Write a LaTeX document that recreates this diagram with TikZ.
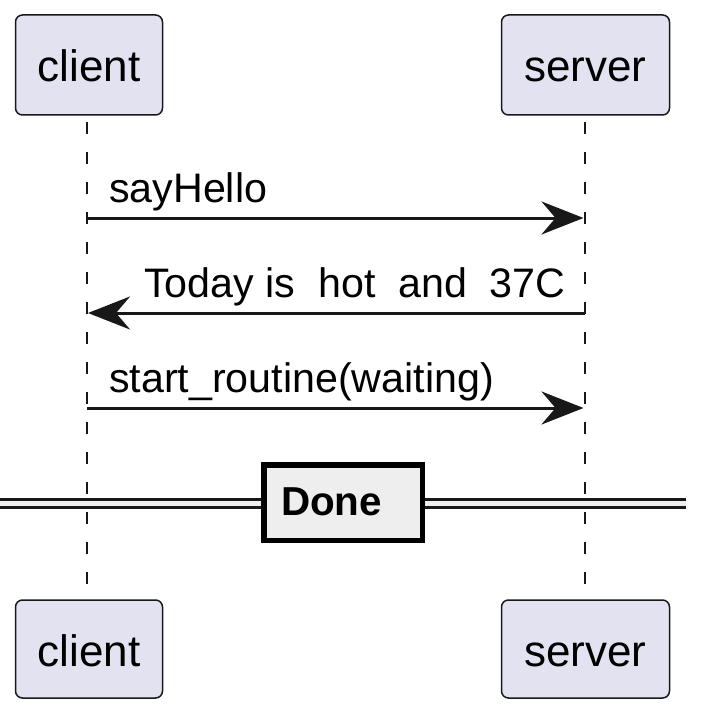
\documentclass[tikz,border=0pt]{standalone}
\usepackage{fontspec}
\setmainfont{Liberation Sans}
\usetikzlibrary{arrows.meta}
\definecolor{partfill}{HTML}{E2E2F0}
\definecolor{ink}{HTML}{181818}
\definecolor{divfill}{HTML}{EEEEEE}
\begin{document}
\begin{tikzpicture}[x=1pt,y=-1pt,
  participant/.style={draw=ink, line width=1.5pt, fill=partfill, rounded corners=7pt,
    minimum height=100pt, inner sep=0pt, text height=34pt, text depth=0pt,
    font=\fontsize{44pt}{52pt}\selectfont},
  lifeline/.style={draw=ink, line width=1.5pt, dash pattern=on 12pt off 18pt, dash phase=23pt},
  msg/.style={draw=ink, line width=3pt, -{Stealth[length=42pt,width=33pt,inset=14pt]}},
  msgtext/.style={anchor=base west, inner sep=0pt, font=\fontsize{41.2pt}{48pt}\selectfont},
  divline/.style={draw=ink, line width=3pt},
  divbox/.style={draw=black, line width=5.5pt, fill=divfill, minimum width=158.5pt,
    minimum height=75.5pt, inner ysep=0pt, inner xsep=17.25pt, text width=124pt, align=left,
    text height=25pt, text depth=0pt, font=\fontsize{40.4pt}{48pt}\selectfont\bfseries}
]
\useasboundingbox (0,0) rectangle (704,714);
% lifeline end points
\coordinate (cl0) at (87,115);
\coordinate (cl1) at (87,600);
\coordinate (sl0) at (585,115);
\coordinate (sl1) at (585,600);
\draw[lifeline] (cl0) -- (cl1);
\draw[lifeline] (sl0) -- (sl1);
% participants
\node[participant, minimum width=147pt] (ctop) at (89,65) {client};
\node[participant, minimum width=168pt] (stop) at (585.5,65) {server};
\node[participant, minimum width=147pt, minimum height=98pt] (cbot) at (89,649) {client};
\node[participant, minimum width=168pt, minimum height=98pt] (sbot) at (585.5,649) {server};
% messages
\coordinate (c1) at (87,218);
\coordinate (s1) at (585,218);
\coordinate (c2) at (87,313);
\coordinate (s2) at (585,313);
\coordinate (c3) at (87,408);
\coordinate (s3) at (585,408);
\draw[msg, shorten >=1.5pt] (c1) -- (s1);
\node[msgtext] (t1) at (109,202) {sayHello};
\draw[msg, shorten >=1pt] (s2) -- (c2);
\node[msgtext] (t2) at (144,297) {Today is\ \ hot\ \ and\ \ 37C};
\draw[msg, shorten >=1.5pt] (c3) -- (s3);
\node[msgtext] (t3) at (109,392) {start\_routine(waiting)};
% divider
\coordinate (d0) at (0,499.2);
\coordinate (d1) at (686,499.2);
\coordinate (d2) at (0,507.9);
\coordinate (d3) at (686,507.9);
\fill[divfill] (d0) rectangle (d3);
\draw[divline] (d0) -- (d1);
\draw[divline] (d2) -- (d3);
\node[divbox] (done) at (343,502.5) {Done};
\end{tikzpicture}
\end{document}
